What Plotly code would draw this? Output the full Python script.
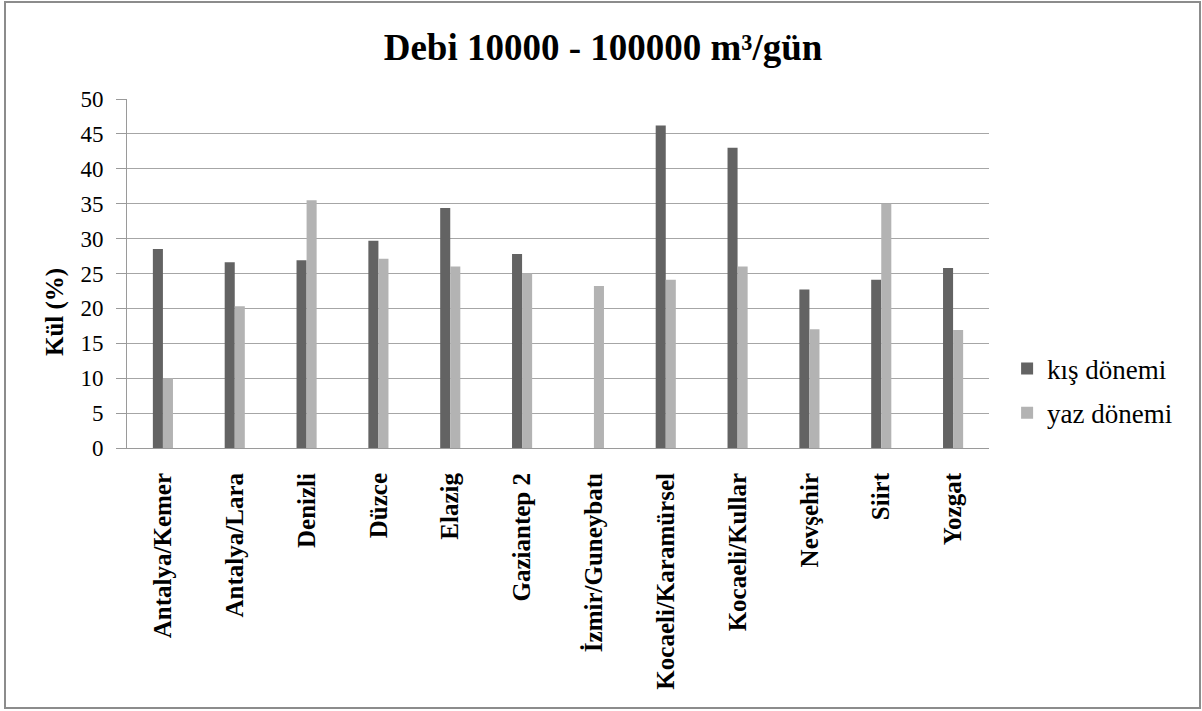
import plotly.graph_objects as go

# Sites (treatment plants) and ash content (%) for the two sampling periods
sites = ["Antalya/Kemer", "Antalya/Lara", "Denizli", "Düzce", "Elazig", "Gaziantep 2",
         "İzmir/Guneybatı", "Kocaeli/Karamürsel", "Kocaeli/Kullar", "Nevşehir", "Siirt", "Yozgat"]
kis_donemi = [28.5, 26.6, 26.9, 29.7, 34.4, 27.8, None, 46.2, 43.0, 22.7, 24.1, 25.8]
yaz_donemi = [10.0, 20.3, 35.5, 27.1, 26.0, 25.0, 23.2, 24.1, 26.0, 17.0, 35.0, 16.9]
y_ticks = [0, 5, 10, 15, 20, 25, 30, 35, 40, 45, 50]

SERIF = "Liberation Serif"

fig = go.Figure()
fig.add_trace(go.Bar(x=sites, y=kis_donemi, name="kış dönemi",
                     marker=dict(color="#636363", line=dict(width=0)),
                     legendgroup="a"))
fig.add_trace(go.Bar(x=sites, y=yaz_donemi, name="yaz dönemi",
                     marker=dict(color="#b3b3b3", line=dict(width=0)),
                     legendgroup="b"))

W, H = 1202, 711
ml, mr, mt, mb = 127, 213, 99, 263
pw = W - ml - mr
ph = H - mt - mb

fig.update_layout(
    width=W, height=H,
    margin=dict(l=ml, r=mr, t=mt, b=mb),
    paper_bgcolor="white", plot_bgcolor="white",
    barmode="group", bargap=0.72, bargroupgap=0,
    font=dict(family=SERIF, color="black", size=23),
    title=dict(text="<b>Debi 10000 - 100000 m³/gün</b>",
               x=603 / W, xref="container", xanchor="center",
               y=1 - 47 / H, yref="container", yanchor="middle",
               font=dict(family=SERIF, size=37, color="black")),
    legend=dict(x=1.021, xanchor="left", y=(H - mb - 391) / ph, yanchor="middle",
                font=dict(family=SERIF, size=27, color="black"),
                tracegroupgap=6, itemwidth=30, bgcolor="rgba(0,0,0,0)"),
    showlegend=True,
)

fig.update_yaxes(range=[0, 50], tickvals=y_ticks, showgrid=True,
                 gridcolor="#a6a6a6", gridwidth=1,
                 showline=True, linecolor="#9a9a9a", linewidth=1,
                 ticks="outside", ticklen=10, tickcolor="#9a9a9a",
                 ticklabelstandoff=8,
                 tickfont=dict(family=SERIF, size=23, color="black"),
                 zeroline=False)
fig.update_xaxes(showline=True, linecolor="#9a9a9a", linewidth=1,
                 ticks="", tickangle=-90,
                 tickfont=dict(family=SERIF, size=25, color="black"),
                 ticklabelstandoff=14)

# Bold category labels
fig.update_xaxes(tickvals=sites, ticktext=[f"<b>{s}</b>" for s in sites])

# Y axis title
fig.add_annotation(text="<b>Kül (%)</b>", textangle=-90, showarrow=False,
                   xref="paper", yref="paper",
                   x=(55 - ml) / pw, y=(H - mb - 312) / ph,
                   xanchor="center", yanchor="middle",
                   font=dict(family=SERIF, size=25, color="black"))

# Outer frame of the chart area
fig.add_shape(type="rect", xref="paper", yref="paper",
              x0=(5 - ml) / pw, x1=(1200 - ml) / pw,
              y0=-(708 - mt - ph) / ph, y1=1 + (mt - 2) / ph,
              line=dict(color="#8c8c8c", width=2), fillcolor="rgba(0,0,0,0)",
              layer="below")

fig.write_html("out.html")
